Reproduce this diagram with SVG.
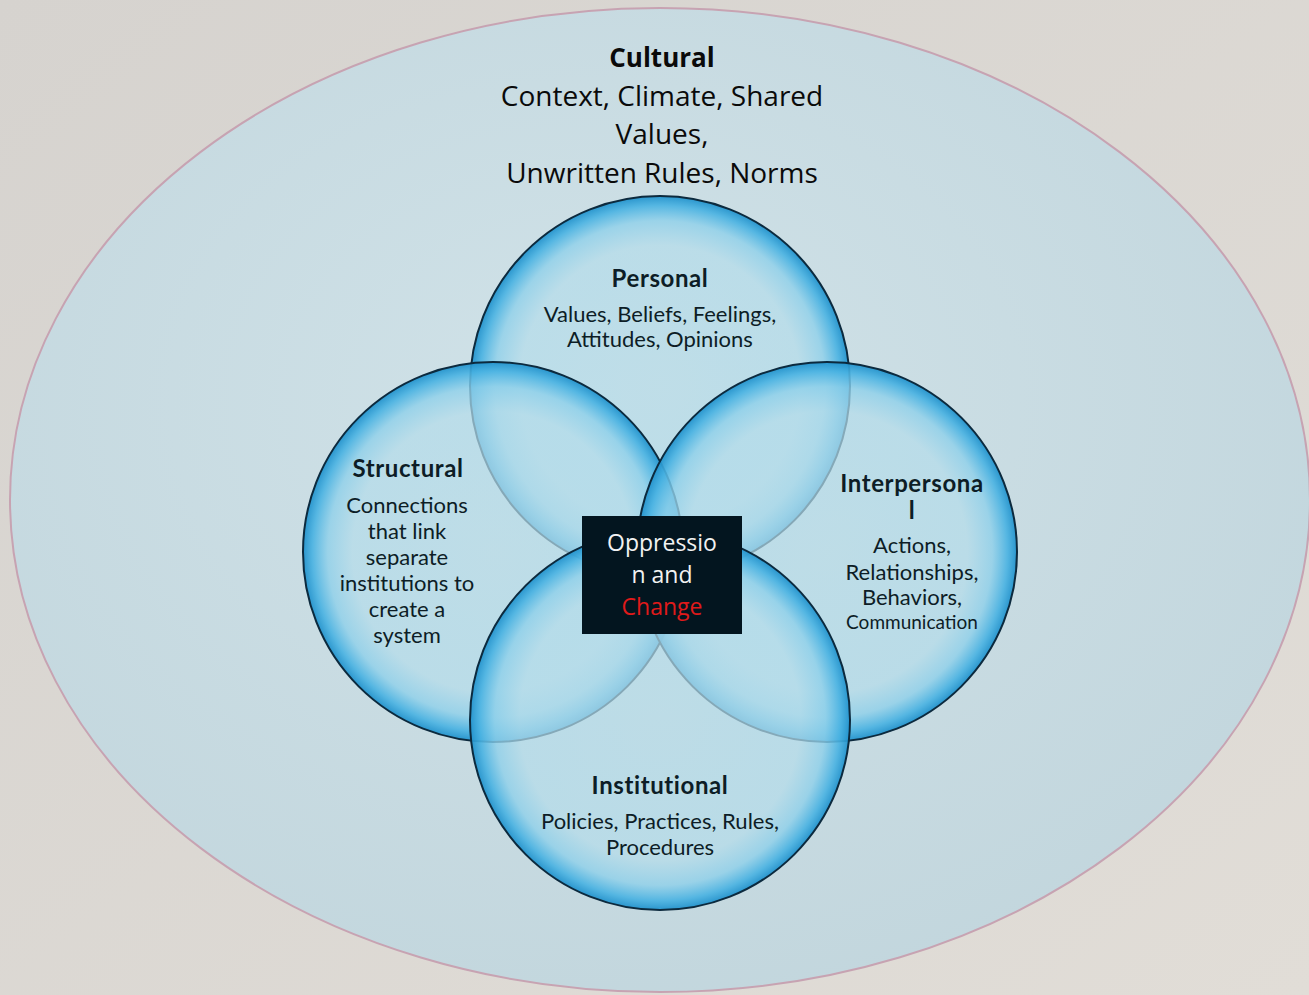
<svg xmlns="http://www.w3.org/2000/svg" width="1309" height="995" viewBox="0 0 1309 995">
  <style>
    .head { font-family: "Open Sans", "Liberation Sans", sans-serif; font-size: 28px; fill: #0a0a0a; text-anchor: middle; }
    .head-bold { font-size: 26px; font-weight: bold; }
    .title { font-family: Lato, "Liberation Sans", sans-serif; font-weight: bold; font-size: 24px; letter-spacing: 0.6px; fill: #0d1d26; text-anchor: middle; }
    .body { font-family: Lato, "Liberation Sans", sans-serif; font-size: 22px; fill: #0d1d26; text-anchor: middle; }
    .small { font-size: 19px; }
    .ring { fill: url(#bubble); stroke: #0c2a3e; stroke-width: 2; }
    .center-text { font-family: "Open Sans", "Liberation Sans", sans-serif; font-size: 23px; fill: #f2f2f2; text-anchor: middle; }
    .accent { fill: #e01a1a; }
  </style>
  <defs>
    <linearGradient id="bg" x1="0" y1="0" x2="1" y2="1">
      <stop offset="0" stop-color="#d6d3cf"/>
      <stop offset="1" stop-color="#e1ddd7"/>
    </linearGradient>
    <radialGradient id="outer" cx="0.45" cy="0.4" r="0.65">
      <stop offset="0" stop-color="#d0e2e8"/>
      <stop offset="1" stop-color="#c2d6dd"/>
    </radialGradient>
    <radialGradient id="bubble" cx="0.5" cy="0.5" r="0.5">
      <stop offset="0" stop-color="#b8dce8" stop-opacity="0.7"/>
      <stop offset="0.74" stop-color="#b4dcea" stop-opacity="0.72"/>
      <stop offset="0.87" stop-color="#8ed0ea" stop-opacity="0.8"/>
      <stop offset="0.95" stop-color="#48b2e2" stop-opacity="0.9"/>
      <stop offset="1" stop-color="#2292cc" stop-opacity="0.95"/>
    </radialGradient>
  </defs>

  <!-- page background -->
  <rect width="1309" height="995" fill="url(#bg)"/>

  <!-- outer cultural ellipse -->
  <g id="cultural">
    <ellipse cx="660" cy="500" rx="650" ry="492" fill="url(#outer)" stroke="#c7a3b2" stroke-width="2"/>
    <text class="head head-bold" x="662" y="67">Cultural</text>
    <text class="head" x="662" y="106">Context, Climate, Shared</text>
    <text class="head" x="662" y="144">Values,</text>
    <text class="head" x="662" y="183">Unwritten Rules, Norms</text>
  </g>

  <!-- four overlapping spheres -->
  <g id="personal">
    <circle class="ring" cx="660" cy="386" r="190"/>
  </g>
  <g id="structural">
    <circle class="ring" cx="493" cy="552" r="190"/>
  </g>
  <g id="interpersonal">
    <circle class="ring" cx="827" cy="552" r="190"/>
  </g>
  <g id="institutional">
    <circle class="ring" cx="660" cy="720" r="190"/>
  </g>

  <!-- labels -->
  <g id="personal-label">
    <text class="title" x="660" y="287">Personal</text>
    <text class="body" x="660" y="322">Values, Beliefs, Feelings,</text>
    <text class="body" x="660" y="347">Attitudes, Opinions</text>
  </g>
  <g id="structural-label">
    <text class="title" x="408" y="477">Structural</text>
    <text class="body" x="407" y="513">Connections</text>
    <text class="body" x="407" y="539">that link</text>
    <text class="body" x="407" y="565">separate</text>
    <text class="body" x="407" y="591">institutions to</text>
    <text class="body" x="407" y="617">create a</text>
    <text class="body" x="407" y="643">system</text>
  </g>
  <g id="interpersonal-label">
    <text class="title" x="912" y="492">Interpersona</text>
    <text class="title" x="912" y="519">l</text>
    <text class="body" x="912" y="553">Actions,</text>
    <text class="body" x="912" y="580">Relationships,</text>
    <text class="body" x="912" y="605">Behaviors,</text>
    <text class="body small" x="912" y="629">Communication</text>
  </g>
  <g id="institutional-label">
    <text class="title" x="660" y="794">Institutional</text>
    <text class="body" x="660" y="829">Policies, Practices, Rules,</text>
    <text class="body" x="660" y="855">Procedures</text>
  </g>

  <!-- central box -->
  <g id="center">
    <rect x="582" y="516" width="160" height="118" fill="#03151f"/>
    <text class="center-text" x="662" y="551">Oppressio</text>
    <text class="center-text" x="662" y="583">n and</text>
    <text class="center-text accent" x="662" y="615">Change</text>
  </g>
</svg>
